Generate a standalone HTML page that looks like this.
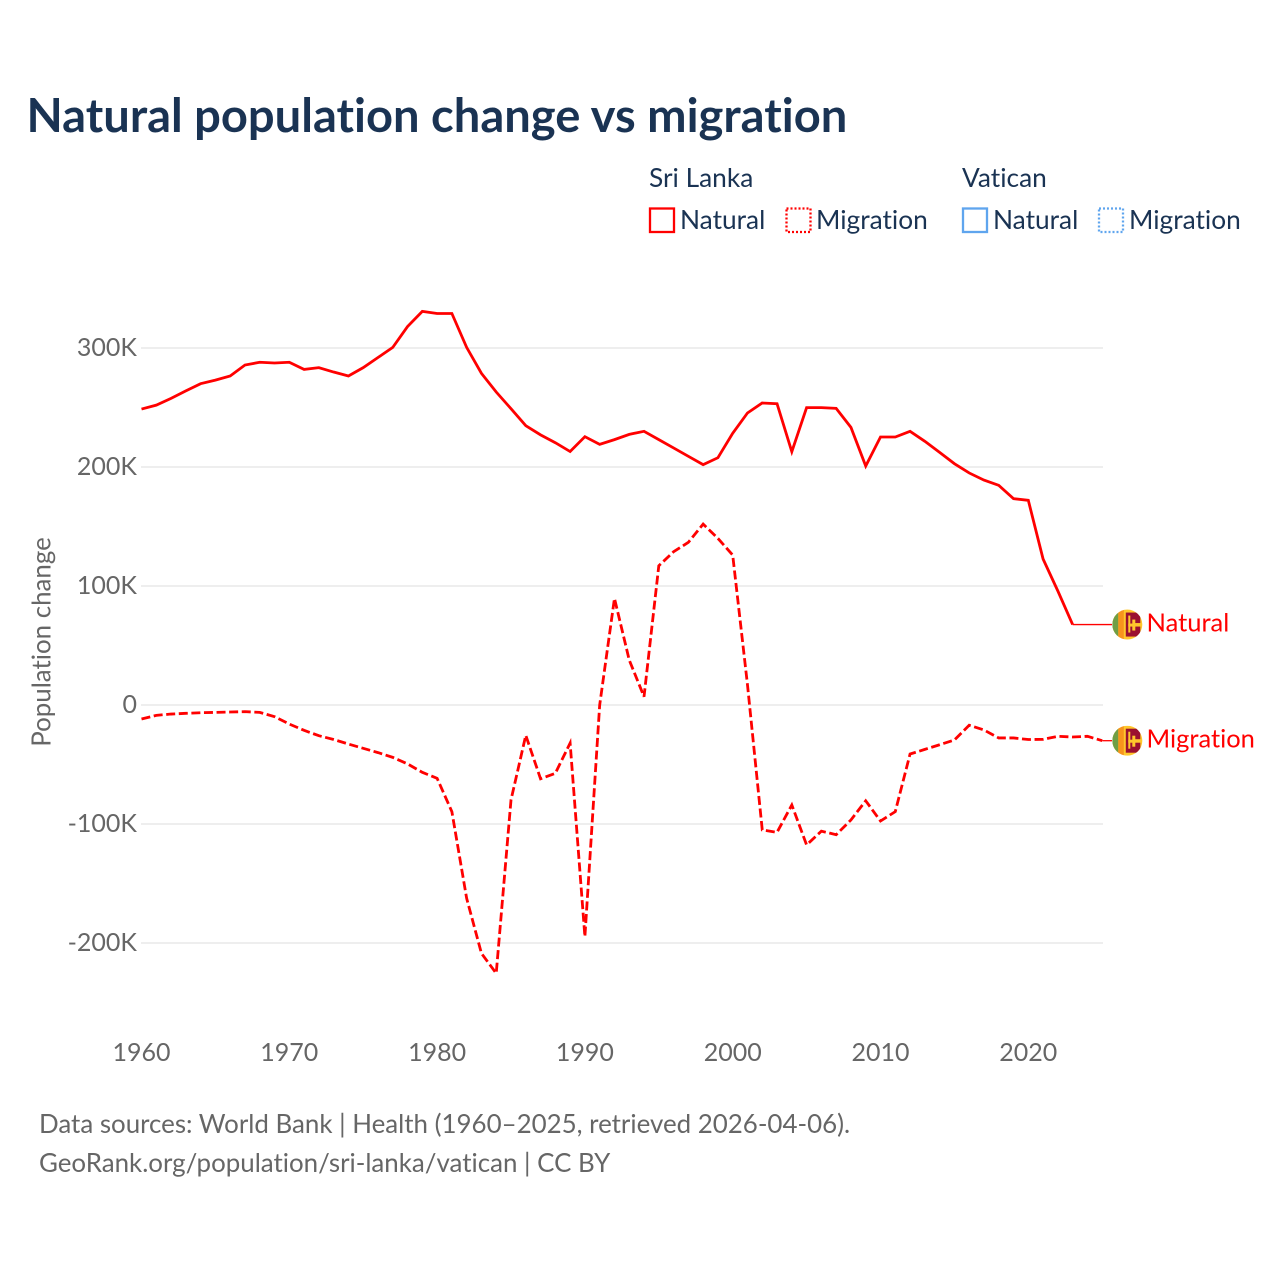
<!DOCTYPE html>
<html lang="en">
<head>
<meta charset="utf-8">
<title>Natural population change vs migration</title>
<style>
html,body{margin:0;padding:0;background:#fff;width:1280px;height:1280px;overflow:hidden}
svg{display:block;font-family:"Lato","Carlito","Liberation Sans",sans-serif;font-variant-ligatures:none;font-feature-settings:"liga" 0,"clig" 0}
.leg{font-size:26.3px;fill:#1a3353}
.tick{font-size:25px;fill:#666}
.axis-title{font-size:25.9px;fill:#666}
.foot{font-size:25.9px;fill:#666}
</style>
</head>
<body>
<svg id="chart" xmlns="http://www.w3.org/2000/svg" width="1280" height="1280" viewBox="0 0 1280 1280">
  <rect x="0" y="0" width="1280" height="1280" fill="#fff"/>
  <text x="26.500" y="132" font-size="47.1" font-weight="700" fill="#1a3353">Natural population change vs migration</text>

  <g>
    <text class="leg" x="649" y="187">Sri Lanka</text>
    <text class="leg" x="962" y="187">Vatican</text>
    <rect x="650" y="208.500" width="24" height="23.500" fill="none" stroke="#ff0000" stroke-width="2.300"/>
    <text class="leg" x="680" y="229">Natural</text>
    <rect x="786.500" y="208.500" width="24" height="23.500" fill="none" stroke="#ff0000" stroke-width="2.300" stroke-dasharray="2 2"/>
    <text class="leg" x="816" y="229">Migration</text>
    <rect x="963" y="208.500" width="24" height="23.500" fill="none" stroke="#5fa5ee" stroke-width="2.300"/>
    <text class="leg" x="993" y="229">Natural</text>
    <rect x="1099" y="208.500" width="24" height="23.500" fill="none" stroke="#5fa5ee" stroke-width="2.300" stroke-dasharray="2 2"/>
    <text class="leg" x="1129" y="229">Migration</text>
  </g>

  <g id="grid"></g>
  <g id="yaxis"></g>
  <g id="xaxis"></g>
  <text class="axis-title" transform="translate(50.500,642) rotate(-90)" text-anchor="middle">Population change</text>
  <g id="series"></g>
  <g id="ends"></g>

  <text class="foot" x="39" y="1133">Data sources: World Bank | Health (1960–2025, retrieved 2026-04-06).</text>
  <text class="foot" x="39" y="1172">GeoRank.org/population/sri-lanka/vatican | CC BY</text>
</svg>
<script>
var years = [1960,1961,1962,1963,1964,1965,1966,1967,1968,1969,1970,1971,1972,1973,1974,1975,1976,1977,1978,1979,1980,1981,1982,1983,1984,1985,1986,1987,1988,1989,1990,1991,1992,1993,1994,1995,1996,1997,1998,1999,2000,2001,2002,2003,2004,2005,2006,2007,2008,2009,2010,2011,2012,2013,2014,2015,2016,2017,2018,2019,2020,2021,2022,2023,2024,2025];
var naturalValues = [248.7,252,257.7,264,270,273,276.5,285.7,288,287.4,288,282,283.5,279.8,276.5,283.5,292,300.5,318,330.8,329,329,300.5,278.7,263,249,234.7,227,220.4,213,225.5,219,223,227.4,230,223,216,209,202,207.8,228.3,245.4,253.8,253.2,212.9,249.9,249.9,249.3,233.3,200.8,225.2,225.2,230,221.6,212.3,202.8,195,189,184.6,173.4,172,122.7,95.8,67.6,null,null];
var migrationValues = [-11.8,-8.7,-7.6,-7,-6.5,-6.2,-5.9,-5.6,-6.2,-9.8,-16,-21.3,-25.8,-29,-32.8,-36.4,-40,-44,-49.5,-56.6,-61.6,-89.6,-162.5,-208.7,-225.5,-79.8,-25.5,-62,-57.4,-32,-194.7,0,89.6,37.8,7,117,128.8,136.7,152,140,126,17,-105,-107,-84,-117.6,-106,-109,-96.6,-80.5,-97.5,-89.6,-41.2,-37.3,-33.4,-29.4,-17,-21,-27.7,-27.7,-29,-28.9,-26.3,-26.9,-26.3,-30];
var yTickValues = [300,200,100,0,-100,-200];
var yTickLabels = ["300K","200K","100K","0","-100K","-200K"];
var xTickValues = [1960,1970,1980,1990,2000,2010,2020];
var xTickLabels = ["1960","1970","1980","1990","2000","2010","2020"];

var NS = 'http://www.w3.org/2000/svg';
function xScale(year){ return 141.5 + (year - 1960) * 14.78; }
function yScale(k){ return 705 - k * 1.19; }
function make(tag, parent, attrs){
  var el = document.createElementNS(NS, tag);
  for (var key in attrs) { el.setAttribute(key, attrs[key]); }
  parent.appendChild(el);
  return el;
}

var gridGroup = document.getElementById('grid');
var yGroup = document.getElementById('yaxis');
yTickValues.forEach(function(v, i){
  var line = make('line', gridGroup, {x1: 141, x2: 1103, y1: yScale(v), y2: yScale(v), stroke: '#e8e8e8', 'stroke-width': 1.5});
  
  
  var t = make('text', yGroup, {x: 137, y: yScale(v) + 8, 'text-anchor': 'end', 'class': 'tick'});
  t.textContent = yTickLabels[i];
  
  
});

var xGroup = document.getElementById('xaxis');
xTickValues.forEach(function(v, i){
  var t = make('text', xGroup, {x: xScale(v), y: 1061, 'text-anchor': 'middle', 'class': 'tick'});
  t.textContent = xTickLabels[i];
  
  
});

function pathFor(values){
  var d = '';
  values.forEach(function(v, i){
    if (v === null) { return; }
    d += (d ? 'L' : 'M') + xScale(years[i]).toFixed(2) + ' ' + yScale(v).toFixed(2);
  });
  return d;
}
function lastPoint(values){
  for (var i = values.length - 1; i >= 0; i--) {
    if (values[i] !== null) { return {x: xScale(years[i]), y: yScale(values[i])}; }
  }
}

var seriesGroup = document.getElementById('series');
var endGroup = document.getElementById('ends');

var naturalLine = make('path', seriesGroup, {d: pathFor(naturalValues), fill: 'none', stroke: '#ff0000', 'stroke-width': 2.8, 'stroke-linejoin': 'miter'});



var migrationLine = make('path', seriesGroup, {d: pathFor(migrationValues), fill: 'none', stroke: '#ff0000', 'stroke-width': 2.8, 'stroke-dasharray': '9 3.6'});



function drawFlag(group, cx, cy){
  var id = 'clip' + Math.round(cy);
  var clip = make('clipPath', group, {id: id});
  make('circle', clip, {cx: cx, cy: cy, r: 15});
  var g = make('g', group, {'clip-path': 'url(#' + id + ')'});
  make('rect', g, {x: cx - 15, y: cy - 15, width: 30, height: 30, fill: '#ffc72c'});
  make('rect', g, {x: cx - 15, y: cy - 15, width: 6, height: 30, fill: '#6f9e45'});
  make('rect', g, {x: cx - 9, y: cy - 15, width: 5.500, height: 30, fill: '#f7941d'});
  make('rect', g, {x: cx - 1.500, y: cy - 12, width: 14.500, height: 24, fill: '#9b1030'});
  make('rect', g, {x: cx + 1, y: cy - 9, width: 2, height: 17, fill: '#ffc72c'});
  make('rect', g, {x: cx + 1, y: cy - 1, width: 7, height: 3, fill: '#ffc72c'});
  make('rect', g, {x: cx + 5, y: cy - 5, width: 3, height: 11, fill: '#ffc72c'});
  make('rect', g, {x: cx + 7, y: cy - 1.500, width: 8, height: 3.500, fill: '#ffc72c'});
}

function drawEnd(values, label, key){
  var p = lastPoint(values);
  var conn = make('line', endGroup, {x1: p.x, y1: p.y, x2: 1112, y2: p.y, stroke: '#ff0000', 'stroke-width': 1.3});
  
  
  var flag = make('g', endGroup, {});
  
  
  drawFlag(flag, 1127.3, p.y);
  var t = make('text', endGroup, {x: 1146.5, y: p.y + 7, 'font-size': 25.5, fill: '#ff0000'});
  t.textContent = label;
  
  
}
drawEnd(naturalValues, 'Natural', 'natural');
drawEnd(migrationValues, 'Migration', 'migration');
</script>
</body>
</html>
